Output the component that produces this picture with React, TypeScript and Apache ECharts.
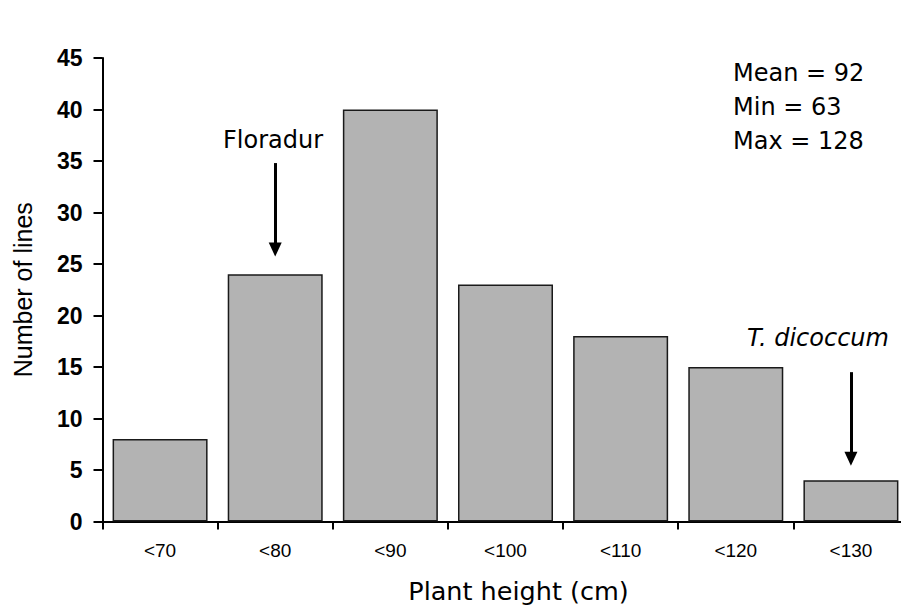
import React, { useEffect, useRef } from "react";
import * as echarts from "echarts";

const categories = ["<70", "<80", "<90", "<100", "<110", "<120", "<130"];
const lineCounts = [8, 24, 40, 23, 18, 15, 4];
const yTicks = { min: 0, max: 45, interval: 5 };
const statsLines = ["Mean = 92", "Min = 63", "Max = 128"];
const arrowFloradur = { category: "<80", from: 34.8, to: 26.4, label: "Floradur" };
const arrowDicoccum = { category: "<130", from: 14.5, to: 6.1, label: "T. dicoccum" };

export default function App() {
  const ref = useRef<HTMLDivElement>(null);
  useEffect(() => {
    document.body.style.margin = "0";
    document.body.style.overflow = "hidden";
    const chart = echarts.init(ref.current!, null, { renderer: "svg" });
    const annoFont = "DejaVu Sans";
    chart.setOption({
      animation: false,
      backgroundColor: "#ffffff",
      grid: {
        left: 102.5,
        width: 806,
        top: 58,
        bottom: 91.5,
        containLabel: false,
        outerBoundsMode: "none",
      },
      xAxis: {
        type: "category",
        data: categories,
        name: "Plant height (cm)",
        nameLocation: "middle",
        nameGap: 56,
        nameTextStyle: {
          fontFamily: annoFont,
          fontSize: 25.5,
          color: "#000",
          padding: [0, 0, 0, 26],
        },
        axisLine: { lineStyle: { color: "#000", width: 2 } },
        axisTick: { show: true, length: 8, lineStyle: { color: "#000", width: 2 } },
        axisLabel: { margin: 19, fontFamily: "Liberation Sans", fontSize: 19, color: "#000" },
      },
      yAxis: {
        type: "value",
        min: yTicks.min,
        max: yTicks.max,
        interval: yTicks.interval,
        name: "Number of lines",
        nameLocation: "middle",
        nameGap: 67,
        nameTextStyle: { fontFamily: "Liberation Sans", fontSize: 25, color: "#000" },
        axisLine: { show: true, lineStyle: { color: "#000", width: 2 } },
        axisTick: { show: true, length: 9, lineStyle: { color: "#000", width: 2 } },
        axisLabel: {
          margin: 20,
          fontFamily: "Liberation Sans",
          fontWeight: "bold",
          fontSize: 23,
          color: "#000",
        },
        splitLine: { show: false },
      },
      series: [
        {
          type: "bar",
          data: lineCounts,
          barWidth: "82.5%",
          itemStyle: { color: "#b3b3b3", borderColor: "#1a1a1a", borderWidth: 1.5 },
          markLine: {
            silent: true,
            symbol: ["none", "triangle"],
            symbolSize: [13, 14],
            symbolRotate: 180,
            label: { show: false },
            lineStyle: { color: "#000", width: 3, type: "solid" },
            data: [
              [
                { coord: [arrowFloradur.category, arrowFloradur.from] },
                { coord: [arrowFloradur.category, arrowFloradur.to] },
              ],
              [
                { coord: [arrowDicoccum.category, arrowDicoccum.from] },
                { coord: [arrowDicoccum.category, arrowDicoccum.to] },
              ],
            ],
          },
        },
      ],
      graphic: [
        ...statsLines.map((t, i) => ({
          type: "text",
          left: 733,
          top: 61 + i * 34,
          style: { text: t, fontFamily: annoFont, fontSize: 24, fill: "#000" },
        })),
        {
          type: "text",
          x: 273,
          y: 140,
          style: {
            text: arrowFloradur.label,
            fontFamily: annoFont,
            fontSize: 24,
            fill: "#000",
            align: "center",
            verticalAlign: "middle",
          },
        },
        {
          type: "text",
          x: 818,
          y: 338,
          style: {
            text: arrowDicoccum.label,
            fontFamily: annoFont,
            fontStyle: "italic",
            fontSize: 24,
            fill: "#000",
            align: "center",
            verticalAlign: "middle",
          },
        },
      ],
    });
    return () => chart.dispose();
  }, []);
  return <div ref={ref} style={{ width: 901, height: 613 }} />;
}
